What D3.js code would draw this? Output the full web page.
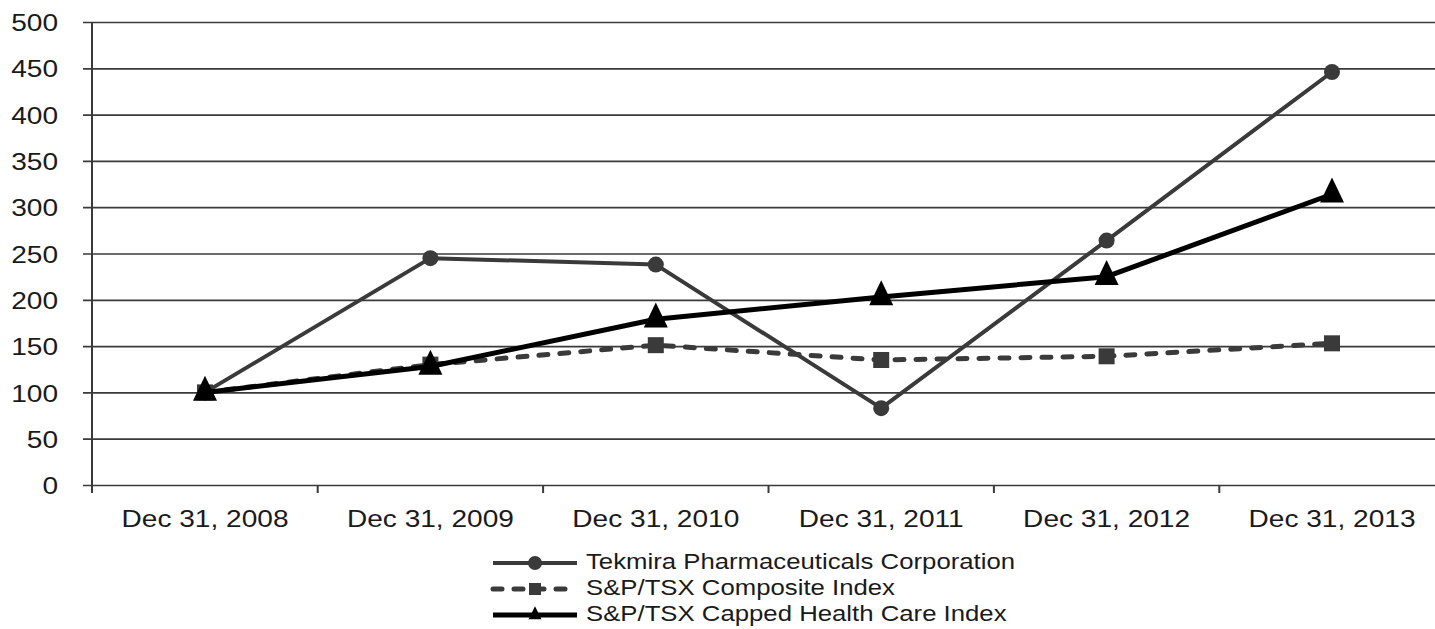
<!DOCTYPE html>
<html>
<head>
<meta charset="utf-8">
<script src="https://cdn.jsdelivr.net/npm/d3@7"></script>
<style>
  body { margin: 0; background: #fff; }
  svg text { font-family: "Liberation Sans", Arial, sans-serif; fill: #1a1a1a; }
</style>
</head>
<body>
<div id="chart"></div>
<script>
// Datos
const categories = ["Dec 31, 2008", "Dec 31, 2009", "Dec 31, 2010", "Dec 31, 2011", "Dec 31, 2012", "Dec 31, 2013"];
const tekmira = [100, 245, 238, 83, 264, 446];
const composite = [100, 130, 151, 135, 139, 153];
const healthCare = [100, 128, 179, 203, 225, 314];
const yTicks = [0, 50, 100, 150, 200, 250, 300, 350, 400, 450, 500];
const seriesNames = ["Tekmira Pharmaceuticals Corporation", "S&P/TSX Composite Index", "S&P/TSX Capped Health Care Index"];

const W = 1435, H = 629;
const stretch = 1.17; // el texto original está estirado horizontalmente

const svg = d3.select("#chart").append("svg")
    .attr("width", W)
    .attr("height", H);

// Escalas
const x = d3.scaleBand()
    .domain(categories)
    .range([92.3, 1444.7])
    .padding(0);

const y = d3.scaleLinear()
    .domain([0, 500])
    .range([485, 22]);

const cx = c => x(c) + x.bandwidth() / 2;

// Eje Y con líneas de cuadrícula
const yAxis = svg.append("g")
    .attr("transform", "translate(83,0)")
    .call(d3.axisLeft(y).tickValues(yTicks).tickSize(-(W - 83)).tickPadding(25));
yAxis.select(".domain").remove();
yAxis.selectAll(".tick line")
    .attr("stroke", "#3a3a3a")
    .attr("stroke-width", 1.7);
yAxis.selectAll(".tick text")
    .attr("x", -25 / stretch)
    .attr("dy", "0.36em")
    .attr("transform", `scale(${stretch},1)`)
    .style("font-size", "24px");

// Línea vertical del eje
svg.append("line")
    .attr("x1", 92).attr("x2", 92)
    .attr("y1", y(500)).attr("y2", 493)
    .attr("stroke", "#3a3a3a")
    .attr("stroke-width", 2);

// Marcas del eje X en los límites de las bandas
svg.selectAll(".xtick")
    .data(categories.slice(1))
    .join("line")
    .attr("class", "xtick")
    .attr("x1", d => x(d)).attr("x2", d => x(d))
    .attr("y1", y(0)).attr("y2", 493)
    .attr("stroke", "#3a3a3a")
    .attr("stroke-width", 2);

// Etiquetas del eje X
const xAxis = svg.append("g")
    .attr("transform", `translate(0,${y(0)})`)
    .call(d3.axisBottom(x).tickSize(0).tickPadding(25));
xAxis.select(".domain").remove();
xAxis.selectAll(".tick text")
    .attr("transform", `scale(${stretch},1)`)
    .style("font-size", "24px");

// Generadores de marcadores
const triPath = (w, h) => `M0,${-2 * h / 3}L${w / 2},${h / 3}L${-w / 2},${h / 3}Z`;

const line = d3.line()
    .x((d, i) => cx(categories[i]))
    .y(d => y(d));

const series = [
    { name: seriesNames[0], values: tekmira, color: "#3a3a3a", width: 4, dash: null, marker: "circle" },
    { name: seriesNames[1], values: composite, color: "#3a3a3a", width: 5, dash: "9,12", marker: "square" },
    { name: seriesNames[2], values: healthCare, color: "#000", width: 5, dash: null, marker: "triangle" }
];

function drawMarker(g, type, color, big) {
    if (type === "circle") {
        g.append("circle").attr("r", big ? 8 : 7).attr("fill", color);
    } else if (type === "square") {
        const s = big ? 16 : 12;
        g.append("rect").attr("x", -s / 2).attr("y", -s / 2).attr("width", s).attr("height", s).attr("fill", color);
    } else {
        g.append("path").attr("d", big ? triPath(24, 25) : triPath(13, 13)).attr("fill", color);
    }
}

series.forEach(s => {
    svg.append("path")
        .datum(s.values)
        .attr("fill", "none")
        .attr("stroke", s.color)
        .attr("stroke-width", s.width)
        .attr("stroke-linecap", s.dash ? "round" : "butt")
        .attr("stroke-linejoin", "round")
        .attr("stroke-dasharray", s.dash)
        .attr("d", line);

    s.values.forEach((v, i) => {
        const g = svg.append("g").attr("transform", `translate(${cx(categories[i])},${y(v)})`);
        drawMarker(g, s.marker, s.color, true);
    });
});

// Leyenda
const legendRows = [563, 589, 615];
series.forEach((s, i) => {
    const ly = legendRows[i];
    svg.append("line")
        .attr("x1", 493).attr("x2", 577)
        .attr("y1", ly).attr("y2", ly)
        .attr("stroke", s.color)
        .attr("stroke-width", s.width)
        .attr("stroke-linecap", s.dash ? "round" : "butt")
        .attr("stroke-dasharray", s.dash ? "9,12" : null);
    const g = svg.append("g").attr("transform", `translate(535,${ly})`);
    drawMarker(g, s.marker, s.color, false);
    svg.append("text")
        .attr("transform", `translate(586,${ly + 6}) scale(${stretch},1)`)
        .style("font-size", "22px")
        .text(s.name);
});
</script>
</body>
</html>
